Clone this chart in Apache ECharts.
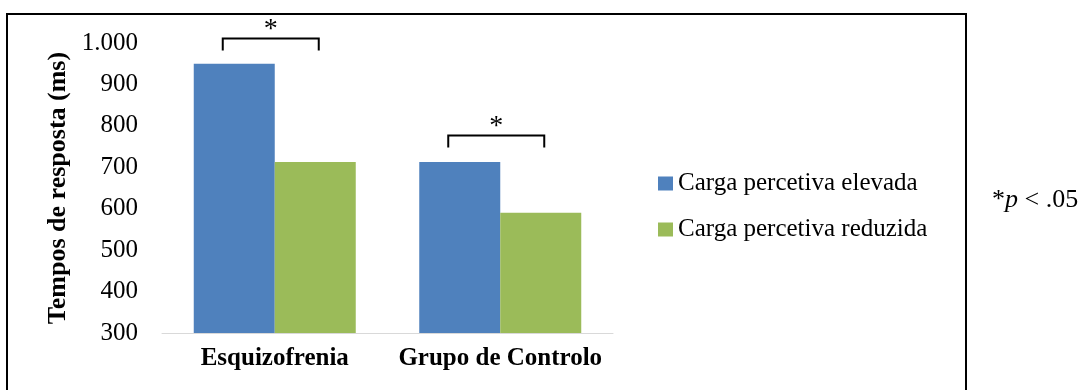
<!DOCTYPE html>
<html>
<head>
<meta charset="utf-8">
<style>
html,body{margin:0;padding:0;background:#fff;}
#chart{width:1083px;height:390px;}
</style>
<script src="https://cdn.jsdelivr.net/npm/echarts@6/dist/echarts.min.js"></script>
</head>
<body>
<div id="chart"></div>
<script>
const categories = ['Esquizofrenia', 'Grupo de Controlo'];
const seriesNames = ['Carga percetiva elevada', 'Carga percetiva reduzida'];
const elevada = [950, 713];
const reduzida = [713, 590];
const yTicks = [300, 400, 500, 600, 700, 800, 900, 1000];
const brackets = [[0, 1011], [1, 777]]; // [category index, bracket top value]

const chart = echarts.init(document.getElementById('chart'));
const serif = '"Liberation Serif", "DejaVu Serif", serif';

function fmt(v){ return v >= 1000 ? String(v).replace(/(\d)(\d{3})$/, '$1.$2') : String(v); }

chart.setOption({
  animation: false,
  backgroundColor: '#fff',
  grid: { left: 162, right: 470, top: 43, bottom: 57 },
  legend: {
    orient: 'vertical',
    left: 653, top: 166,
    icon: 'rect',
    itemWidth: 15, itemHeight: 14, itemGap: 21,
    textStyle: { fontFamily: serif, fontSize: 25, color: '#000' },
    data: seriesNames
  },
  xAxis: {
    type: 'category',
    data: categories,
    axisLine: { lineStyle: { color: '#d9d9d9', width: 1 } },
    axisTick: { show: false },
    axisLabel: { interval: 0, hideOverlap: false, fontFamily: serif, fontSize: 25, fontWeight: 'bold', color: '#000', margin: 13 }
  },
  yAxis: {
    type: 'value',
    min: yTicks[0], max: yTicks[yTicks.length - 1], interval: 100,
    name: 'Tempos de resposta (ms)',
    nameLocation: 'middle', nameGap: 91,
    nameTextStyle: { fontFamily: serif, fontSize: 26, fontWeight: 'bold', color: '#000' },
    axisLine: { show: false }, axisTick: { show: false },
    splitLine: { show: false },
    axisLabel: { fontFamily: serif, fontSize: 25, color: '#000', margin: 24, formatter: fmt }
  },
  series: [
    { name: seriesNames[0], type: 'bar', data: elevada, barWidth: 81, barGap: '0%',
      itemStyle: { color: '#4f81bd' } },
    { name: seriesNames[1], type: 'bar', data: reduzida, barWidth: 81,
      itemStyle: { color: '#9bbb59' } },
    { type: 'custom', data: brackets, clip: false, silent: true, z: 5,
      renderItem: function(params, api){
        const p = api.coord([api.value(0), api.value(1)]);
        const cx = p[0] - 4, y = p[1], hw = 48, h = 12;
        return { type: 'group', children: [
          { type: 'polyline', shape: { points: [[cx - hw, y + h], [cx - hw, y], [cx + hw, y], [cx + hw, y + h]] },
            style: { stroke: '#000', lineWidth: 2, fill: null } },
          { type: 'text', x: cx, y: y - 9,
            style: { text: '*', fontFamily: serif, fontSize: 28, fill: '#000', align: 'center', verticalAlign: 'middle' } }
        ]};
      }
    }
  ],
  graphic: [
    { type: 'rect', shape: { x: 7, y: 14, width: 959, height: 400 },
      style: { fill: null, stroke: '#000', lineWidth: 2 }, silent: true },
    { type: 'text', x: 992, y: 200,
      style: { rich: { a: { fontFamily: serif, fontSize: 26, fill: '#000' }, b: { fontFamily: serif, fontSize: 26, fontStyle: 'italic', fill: '#000' } },
        text: '{a|*}{b|p}{a| < .05}', verticalAlign: 'middle' } }
  ]
});
</script>
</body>
</html>
